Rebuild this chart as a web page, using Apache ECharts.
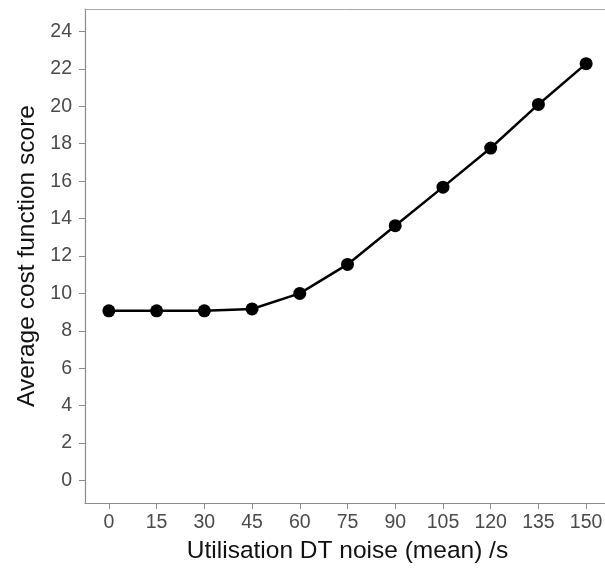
<!DOCTYPE html>
<html><head><meta charset="utf-8">
<script src="https://cdn.jsdelivr.net/npm/echarts@6/dist/echarts.min.js"></script>
<style>html,body{margin:0;padding:0;background:#fff}#c{width:605px;height:570px}</style>
</head><body><div id="c"></div>
<script>
const noiseMean = [0, 15, 30, 45, 60, 75, 90, 105, 120, 135, 150];
const avgCost = [9.07, 9.07, 9.07, 9.17, 10.0, 11.55, 13.62, 15.68, 17.77, 20.1, 22.28];
const xTicks = [0, 15, 30, 45, 60, 75, 90, 105, 120, 135, 150];
const yTicks = [0, 2, 4, 6, 8, 10, 12, 14, 16, 18, 20, 22, 24];
const xTitle = 'Utilisation DT noise (mean) /s';
const yTitle = 'Average cost function score';

const chart = echarts.init(document.getElementById('c'), null, {renderer: 'canvas'});
const font = 'Liberation Sans, Arial, sans-serif';
const axisGrey = '#8c8c8c';
chart.setOption({
  animation: false,
  grid: {left: 85, top: 9, width: 525, height: 494, containLabel: false, outerBoundsMode: 'none'},
  xAxis: [{
    type: 'value', min: -7.5, max: 157.5,
    axisLine: {show: true, onZero: false, lineStyle: {color: axisGrey, width: 1.2}},
    axisTick: {show: true, customValues: xTicks, length: 6, lineStyle: {color: axisGrey}},
    axisLabel: {customValues: xTicks, color: '#4a4a4a', fontSize: 19.5, fontFamily: font, margin: 10},
    splitLine: {show: false},
    name: xTitle, nameLocation: 'middle', nameGap: 36,
    nameTextStyle: {color: '#111', fontSize: 24.5, fontFamily: font}
  }, {
    type: 'value', position: 'top', min: -7.5, max: 157.5,
    axisLine: {show: true, onZero: false, lineStyle: {color: '#a8a8a8', width: 1}},
    axisTick: {show: false}, axisLabel: {show: false}, splitLine: {show: false}
  }],
  yAxis: {
    type: 'value', min: -1.2, max: 25.2,
    axisLine: {show: true, onZero: false, lineStyle: {color: axisGrey, width: 1.2}},
    axisTick: {show: true, customValues: yTicks, length: 6, lineStyle: {color: axisGrey}},
    axisLabel: {customValues: yTicks, color: '#4a4a4a', fontSize: 19.5, fontFamily: font, margin: 13},
    splitLine: {show: false},
    name: yTitle, nameLocation: 'middle', nameGap: 45, nameRotate: 90,
    nameTextStyle: {color: '#111', fontSize: 24.5, fontFamily: font}
  },
  series: [{
    type: 'line',
    data: noiseMean.map((x, i) => [x, avgCost[i]]),
    symbol: 'circle', symbolSize: 13,
    lineStyle: {color: '#000', width: 2.5},
    itemStyle: {color: '#000'},
    clip: false
  }]
});
</script></body></html>
